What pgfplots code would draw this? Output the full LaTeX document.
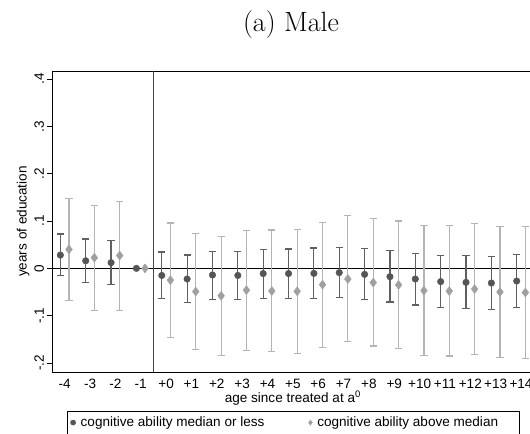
\documentclass[border=0pt]{standalone}
\usepackage{fontspec}
\usepackage{xcolor}
\usepackage{pgfplots}
\usepackage{pgfplotstable}
\pgfplotsset{compat=1.18}
\newfontfamily\arialfont{Liberation Sans}
\newcommand\axfont{\arialfont\fontsize{13.6}{16}\selectfont}
\definecolor{cdark}{HTML}{555555}
\definecolor{cdarkbar}{HTML}{606060}
\definecolor{clight}{HTML}{A0A0A0}
\definecolor{clightbar}{HTML}{B4B4B4}
\definecolor{vred}{HTML}{E60000}

% k  b  lo  hi
\pgfplotstableread{
k b lo hi
-4 0.028 -0.0155 0.0725
-3 0.016 -0.030 0.062
-2 0.012 -0.0345 0.059
0 -0.015 -0.064 0.0345
1 -0.0225 -0.072 0.028
2 -0.014 -0.0655 0.035
3 -0.015 -0.066 0.035
4 -0.011 -0.063 0.040
5 -0.011 -0.064 0.041
6 -0.0106 -0.063 0.043
7 -0.009 -0.062 0.044
8 -0.0127 -0.066 0.0415
9 -0.0176 -0.071 0.037
10 -0.0225 -0.0775 0.032
11 -0.028 -0.082 0.027
12 -0.0296 -0.084 0.027
13 -0.031 -0.0866 0.025
14 -0.0268 -0.083 0.029
}\lowtab
\pgfplotstableread{
k b lo hi
-4 0.040 -0.068 0.148
-3 0.0225 -0.089 0.132
-2 0.027 -0.089 0.1415
0 -0.025 -0.146 0.096
1 -0.049 -0.172 0.073
2 -0.058 -0.184 0.0676
3 -0.046 -0.174 0.080
4 -0.048 -0.176 0.081
5 -0.0486 -0.180 0.0824
6 -0.0345 -0.167 0.097
7 -0.0225 -0.155 0.111
8 -0.030 -0.164 0.105
9 -0.035 -0.170 0.100
10 -0.047 -0.184 0.090
11 -0.048 -0.185 0.090
12 -0.0437 -0.182 0.094
13 -0.050 -0.189 0.089
14 -0.051 -0.191 0.088
}\hightab

\begin{document}
\begin{tikzpicture}
\begin{axis}[
  at={(52bp,62bp)}, anchor=south west,
  scale only axis, width=481.7bp, height=301bp,
  xmin=-4.5, xmax=14.5, ymin=-0.219, ymax=0.417,
  axis line style={line width=0.9bp, black},
  xtick={-4,...,14},
  xticklabels={-4,-3,-2,-1,+0,+1,+2,+3,+4,+5,+6,+7,+8,+9,+10,+11,+12,+13,+14},
  ytick={-0.2,-0.1,0,0.1,0.2,0.3,0.4},
  yticklabels={-.2,-.1,0,.1,.2,.3,.4},
  xtick pos=bottom, ytick pos=left,
  tick align=outside,
  x tick style={draw=none},
  y tick style={line width=0.9bp, black},
  major tick length=4.5bp,
  tick label style={font=\axfont},
  xticklabel style={yshift=1bp},
  yticklabel style={rotate=90, anchor=south},
  label style={font=\axfont},
  xlabel={age since treated at a\textsuperscript{0}},
  ylabel={years of education},
  xlabel style={at={(axis description cs:0.5,-0.087)}, anchor=center},
  ylabel style={at={(axis description cs:-0.06,0.5)}, anchor=center},
  legend columns=2,
  legend cell align=left,
  legend image code/.code={\draw[#1, mark size=2.6bp] plot coordinates {(0bp,0bp)};},
  legend style={font=\axfont, at={(axis description cs:0.0318,-0.132)}, anchor=north west,
    draw=none, fill=none, inner xsep=3bp, inner ysep=3bp,
    /tikz/every odd column/.append style={column sep=3bp},
    /tikz/every even column/.append style={column sep=42bp}},
  clip=false,
]
\addplot[black, line width=0.9bp, forget plot] coordinates {(-4.5,0) (14.5,0)};
\draw[color=vred, line width=1.1bp] (axis cs:-0.5,-0.219) -- (axis cs:-0.5,0.417);

\addplot[only marks, mark=*, mark size=3.3bp, color=cdark,
  error bars/.cd, y dir=both, y explicit,
  error bar style={line width=1.2bp, cdarkbar},
  error mark options={rotate=90, mark size=3.6bp, line width=1.2bp, cdarkbar}]
  table[x expr=\thisrow{k}-0.17, y=b,
        y error plus expr=\thisrow{hi}-\thisrow{b},
        y error minus expr=\thisrow{b}-\thisrow{lo}] {\lowtab};
\addlegendentry{cognitive ability median or less}

\addplot[only marks, mark=diamond*, mark size=4.5bp, color=clight,
  error bars/.cd, y dir=both, y explicit,
  error bar style={line width=1.2bp, clightbar},
  error mark options={rotate=90, mark size=3.6bp, line width=1.2bp, clightbar}]
  table[x expr=\thisrow{k}+0.17, y=b,
        y error plus expr=\thisrow{hi}-\thisrow{b},
        y error minus expr=\thisrow{b}-\thisrow{lo}] {\hightab};
\addlegendentry{cognitive ability above median}

\addplot[only marks, mark=*, mark size=3.3bp, color=cdark, forget plot] coordinates {(-1.17,0)};
\addplot[only marks, mark=diamond*, mark size=4.5bp, color=clight, forget plot] coordinates {(-0.83,0)};
\end{axis}
\draw[black, line width=0.9bp] (67.3bp,-20bp) rectangle (519bp,22.3bp);
\node[font=\rmfamily\fontsize{28}{32}\selectfont, anchor=base] at (291bp,402.3bp) {(a) Male};
\pgfresetboundingbox
\useasboundingbox (0,0) rectangle (530bp,434bp);
\end{tikzpicture}
\end{document}
